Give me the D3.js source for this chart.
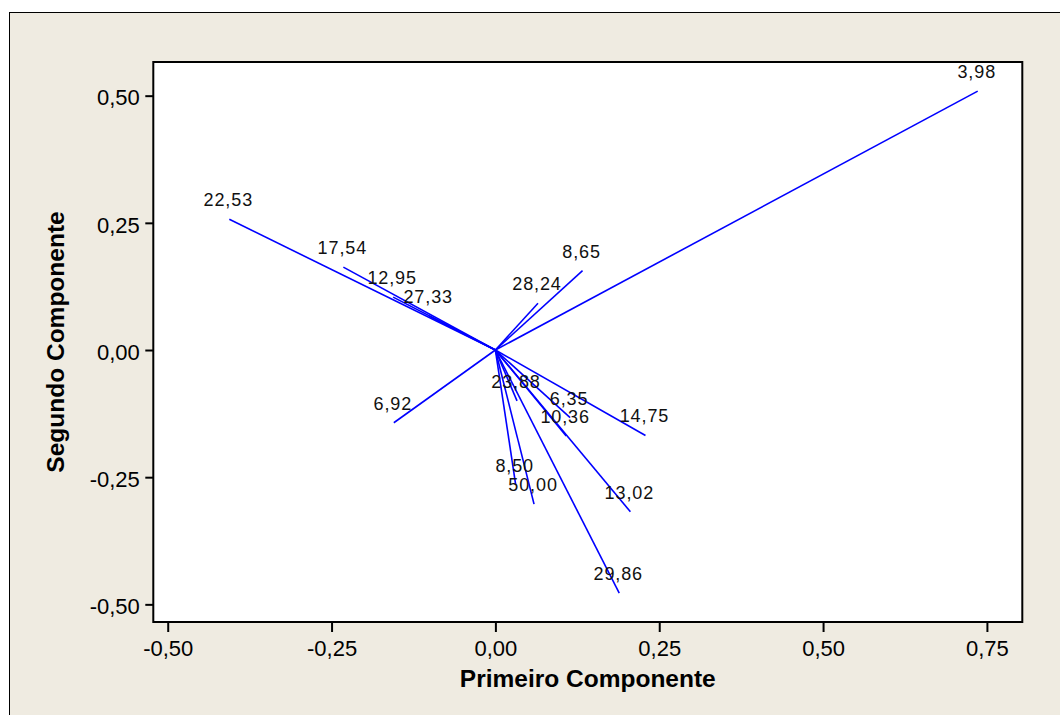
<!DOCTYPE html>
<html>
<head>
<meta charset="utf-8">
<script src="https://cdn.jsdelivr.net/npm/d3@7"></script>
<style>
  html, body { margin: 0; padding: 0; background: #ffffff; }
  svg { display: block; }
</style>
</head>
<body>
<svg id="chart" width="1060" height="715"></svg>
<script>
// ---- data ----
const labels = ["3,98","22,53","17,54","12,95","27,33","28,24","8,65","6,92","23,88","6,35","10,36","14,75","13,02","29,86","8,50","50,00"];
const pc1 = [0.736,-0.406,-0.232,-0.156,-0.101,0.065,0.133,-0.155,0.033,0.114,0.108,0.229,0.206,0.189,0.031,0.059];
const pc2 = [0.509,0.257,0.163,0.104,0.067,0.092,0.156,-0.143,-0.100,-0.133,-0.169,-0.168,-0.318,-0.478,-0.265,-0.303];
const xTicks = [-0.5,-0.25,0,0.25,0.5,0.75];
const yTicks = [-0.5,-0.25,0,0.25,0.5];
const xTitle = "Primeiro Componente";
const yTitle = "Segundo Componente";

(function () {
const locale = d3.formatLocale({decimal: ",", thousands: ".", grouping: [3], currency: ["", ""], minus: "-"});
const fmt = locale.format(".2f");

const svg = d3.select("#chart");
const W = 1060, H = 715;
const pLeft = 153.3, pRight = 1022.3, pTop = 62, pBottom = 622;
const FONT = "'Liberation Sans', Arial, sans-serif";

// background
svg.append("rect").attr("x", 0).attr("y", 0).attr("width", W).attr("height", H).attr("fill", "#ffffff");
svg.append("rect").attr("x", 9.5).attr("y", 12.5).attr("width", W).attr("height", H)
  .attr("fill", "#EFEBE1").attr("stroke", "#000").attr("stroke-width", 1);

const x = d3.scaleLinear().domain([-0.5220, 0.8040]).range([pLeft, pRight]);
const y = d3.scaleLinear().domain([-0.5347, 0.5662]).range([pBottom, pTop]);

// plot area
svg.append("rect").attr("x", pLeft).attr("y", pTop).attr("width", pRight - pLeft).attr("height", pBottom - pTop)
  .attr("fill", "#ffffff");

// axes
const xAxis = svg.append("g").attr("transform", `translate(0,${pBottom})`)
  .call(d3.axisBottom(x).tickValues(xTicks).tickFormat(fmt).tickSize(10).tickPadding(8));
const yAxis = svg.append("g").attr("transform", `translate(${pLeft},0)`)
  .call(d3.axisLeft(y).tickValues(yTicks).tickFormat(fmt).tickSize(8).tickPadding(6));
[xAxis, yAxis].forEach(g => {
  g.select(".domain").remove();
  g.selectAll(".tick line").attr("stroke", "#000").attr("stroke-width", 2);
  g.selectAll(".tick text").attr("fill", "#000")
    .style("font-family", FONT).style("font-size", "22px");
});
xAxis.selectAll(".tick text").attr("dy", null).attr("y", 34);
yAxis.selectAll(".tick text").attr("dy", "0.42em").attr("x", -13.5);

// vectors
const idx = d3.range(labels.length);
svg.append("g").selectAll("line").data(idx).join("line")
  .attr("x1", x(0)).attr("y1", y(0))
  .attr("x2", i => x(pc1[i])).attr("y2", i => y(pc2[i]))
  .attr("stroke", "#0000FF").attr("stroke-width", 1.6);

svg.append("g").selectAll("text").data(idx).join("text")
  .attr("x", i => x(pc1[i]) - 1)
  .attr("y", i => y(pc2[i]) - 13)
  .attr("text-anchor", "middle")
  .style("font-family", FONT)
  .style("font-size", "18px")
  .style("letter-spacing", "0.9px")
  .attr("fill", "#111")
  .text(i => labels[i]);

// frame on top
svg.append("rect").attr("x", pLeft).attr("y", pTop).attr("width", pRight - pLeft).attr("height", pBottom - pTop)
  .attr("fill", "none").attr("stroke", "#000").attr("stroke-width", 2);

// titles
svg.append("text").attr("x", (pLeft + pRight) / 2).attr("y", 687).attr("text-anchor", "middle")
  .style("font-family", FONT).style("font-size", "24.5px").style("font-weight", "bold")
  .text(xTitle);
svg.append("text").attr("transform", `translate(63.5,${(pTop + pBottom) / 2}) rotate(-90)`).attr("text-anchor", "middle")
  .style("font-family", FONT).style("font-size", "24.5px").style("font-weight", "bold")
  .text(yTitle);
})();
</script>
</body>
</html>
